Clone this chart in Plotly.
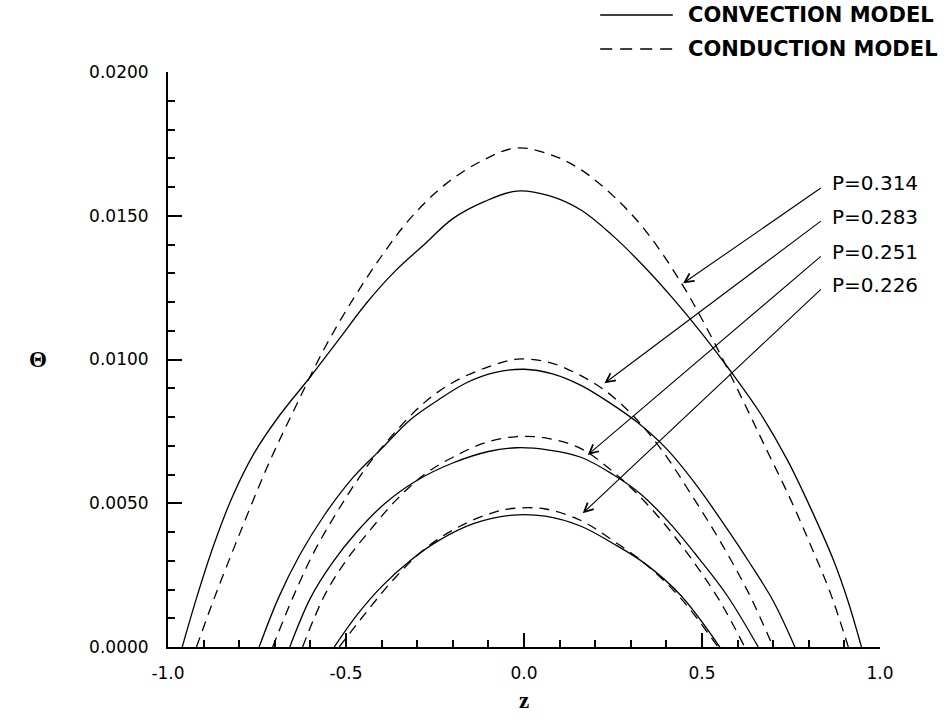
import plotly.graph_objects as go

# ---- data ----
# P = 0.314
z_conv_314 = [-0.96, -0.92, -0.87, -0.82, -0.76, -0.69, -0.60, -0.52, -0.44, -0.36, -0.28, -0.20, -0.11, -0.02,
              0.07, 0.16, 0.25, 0.34, 0.42, 0.50, 0.58, 0.66, 0.74, 0.81, 0.87, 0.91, 0.948]
t_conv_314 = [0, 0.0017, 0.0036, 0.0052, 0.0067, 0.0080, 0.0094, 0.0107, 0.0120, 0.0131, 0.0140, 0.0149, 0.0155, 0.01586,
              0.0157, 0.0152, 0.0143, 0.0132, 0.0121, 0.0109, 0.0096, 0.0082, 0.0065, 0.0047, 0.0030, 0.0016, 0]
z_cond_314 = [-0.92, -0.87, -0.80, -0.72, -0.64, -0.56, -0.48, -0.40, -0.32, -0.22, -0.12, -0.02,
              0.08, 0.16, 0.25, 0.34, 0.44, 0.53, 0.61, 0.68, 0.75, 0.81, 0.86, 0.911]
t_cond_314 = [0, 0.0017, 0.0039, 0.0063, 0.0084, 0.0104, 0.0121, 0.0136, 0.0149, 0.0161, 0.0169, 0.01736,
              0.0171, 0.0166, 0.0157, 0.0145, 0.0127, 0.0107, 0.0087, 0.0069, 0.0051, 0.0034, 0.0019, 0]

# P = 0.283
z_conv_283 = [-0.744, -0.69, -0.63, -0.56, -0.48, -0.40, -0.32, -0.24, -0.16, -0.08, 0.0,
              0.08, 0.16, 0.24, 0.32, 0.40, 0.48, 0.56, 0.63, 0.70, 0.761]
t_conv_283 = [0, 0.0017, 0.0032, 0.0046, 0.0059, 0.0069, 0.0079, 0.0086, 0.0092, 0.00955, 0.00966,
              0.0095, 0.0091, 0.0085, 0.0078, 0.0069, 0.0057, 0.0043, 0.0030, 0.0016, 0]
z_cond_283 = [-0.706, -0.65, -0.59, -0.52, -0.44, -0.36, -0.28, -0.20, -0.11, -0.02,
              0.07, 0.15, 0.23, 0.31, 0.39, 0.47, 0.55, 0.63, 0.70]
t_cond_283 = [0, 0.0017, 0.0033, 0.0048, 0.0063, 0.0075, 0.0085, 0.0092, 0.0097, 0.01001,
              0.0099, 0.0095, 0.0089, 0.0080, 0.0068, 0.0053, 0.0037, 0.0019, 0]

# P = 0.251
z_conv_251 = [-0.658, -0.60, -0.54, -0.47, -0.39, -0.30, -0.20, -0.10, -0.02,
              0.07, 0.16, 0.25, 0.33, 0.41, 0.49, 0.57, 0.658]
t_conv_251 = [0, 0.0017, 0.0029, 0.0040, 0.0050, 0.0058, 0.0064, 0.0068, 0.00693,
              0.00685, 0.0066, 0.0060, 0.0053, 0.0043, 0.0031, 0.0018, 0]
z_cond_251 = [-0.622, -0.56, -0.50, -0.43, -0.36, -0.28, -0.20, -0.11, -0.02,
              0.07, 0.16, 0.24, 0.32, 0.40, 0.48, 0.55, 0.62]
t_cond_251 = [0, 0.0018, 0.0030, 0.0041, 0.0051, 0.0060, 0.0066, 0.0071, 0.00732,
              0.00725, 0.0069, 0.0062, 0.0053, 0.0042, 0.0029, 0.0016, 0]

# P = 0.226
z_conv_226 = [-0.533, -0.47, -0.40, -0.32, -0.24, -0.14, -0.03, 0.06, 0.16, 0.25, 0.34, 0.44, 0.55]
t_conv_226 = [0, 0.0011, 0.0021, 0.0030, 0.0037, 0.0043, 0.00459, 0.00455, 0.0042, 0.0036, 0.0029, 0.0018, 0]
z_cond_226 = [-0.519, -0.45, -0.37, -0.28, -0.18, -0.08, -0.02, 0.06, 0.16, 0.25, 0.34, 0.44, 0.545]
t_cond_226 = [0, 0.0011, 0.0023, 0.0034, 0.0042, 0.0047, 0.00483, 0.0048, 0.0044, 0.0037, 0.0029, 0.0017, 0]

p_labels = ["P=0.314", "P=0.283", "P=0.251", "P=0.226"]
series_names = ["CONVECTION MODEL", "CONDUCTION MODEL"]
x_tick_vals = [-1.0, -0.5, 0.0, 0.5, 1.0]
x_tick_text = ["-1.0", "-0.5", "0.0", "0.5", "1.0"]
y_tick_vals = [0.0, 0.005, 0.010, 0.015, 0.020]
y_tick_text = ["0.0000", "0.0050", "0.0100", "0.0150", "0.0200"]

# ---- figure ----
fig = go.Figure()
conv = [(z_conv_314, t_conv_314), (z_conv_283, t_conv_283), (z_conv_251, t_conv_251), (z_conv_226, t_conv_226)]
cond = [(z_cond_314, t_cond_314), (z_cond_283, t_cond_283), (z_cond_251, t_cond_251), (z_cond_226, t_cond_226)]

SOLID = dict(color="black", width=1.3, shape="spline", smoothing=1.0)
DASHED = dict(color="black", width=1.3, dash="10px,7px", shape="spline", smoothing=1.0)

for zz, tt in conv:
    fig.add_trace(go.Scatter(x=zz, y=tt, mode="lines", name=series_names[0], showlegend=False, line=SOLID))
for zz, tt in cond:
    fig.add_trace(go.Scatter(x=zz, y=tt, mode="lines", name=series_names[1], showlegend=False, line=DASHED))

# key (top right): line samples + bold labels
key_rows_y = [1.0991, 1.040]
key_dash = [None, "12px,8px"]
for name, ky, dsh in zip(series_names, key_rows_y, key_dash):
    ln = dict(color="black", width=1.3)
    if dsh:
        ln["dash"] = dsh
    fig.add_shape(type="line", xref="paper", yref="paper", x0=0.607, x1=0.709, y0=ky, y1=ky, line=ln)
    fig.add_annotation(xref="paper", yref="paper", x=0.727, y=ky, text=name, showarrow=False,
                       xanchor="left", yanchor="middle",
                       font=dict(family="DejaVu Sans", size=21, color="black", weight="bold"))

# arrows (tip on curve, tail at label) and labels
tips = [(0.447, 0.01265), (0.226, 0.00917), (0.179, 0.00668), (0.165, 0.00465)]
tails_y = [0.01600, 0.01485, 0.01363, 0.01249]
label_y = [0.01614, 0.01496, 0.01374, 0.01259]
for lab, (tx, ty), ay, ly in zip(p_labels, tips, tails_y, label_y):
    fig.add_annotation(x=tx, y=ty, ax=0.838, ay=ay, axref="x", ayref="y", xref="x", yref="y",
                       text="", showarrow=True, arrowhead=5, arrowsize=1.6, arrowwidth=1.1,
                       arrowcolor="black", standoff=0, startstandoff=0)
    fig.add_annotation(x=0.86, y=ly, xref="x", yref="y", text=lab, showarrow=False,
                       xanchor="left", yanchor="middle",
                       font=dict(family="DejaVu Sans", size=20, color="black"))

# axis titles
fig.add_annotation(xref="paper", yref="paper", x=0.5, y=0, yshift=-53, text="z", showarrow=False,
                   xanchor="center", yanchor="middle",
                   font=dict(family="Liberation Serif", size=23, color="black", weight="bold"))
fig.add_annotation(xref="paper", yref="paper", x=0, y=0.5, xshift=-130, text="Θ", showarrow=False,
                   xanchor="center", yanchor="middle",
                   font=dict(family="Liberation Serif", size=23, color="black", weight="bold"))

fig.update_layout(
    width=952, height=723,
    margin=dict(l=168, r=72, t=72, b=76),
    paper_bgcolor="white", plot_bgcolor="white",
    font=dict(family="DejaVu Sans", color="black"),
    showlegend=False,
    xaxis=dict(range=[-1, 1], showgrid=False, zeroline=False, showline=True, linewidth=2,
               linecolor="black", ticks="inside", ticklen=14, tickwidth=2, tickcolor="black",
               tickvals=x_tick_vals, ticktext=x_tick_text, tickfont=dict(size=17),
               ticklabelstandoff=10,
               minor=dict(dtick=0.1, tick0=-1, ticks="inside", ticklen=7, tickwidth=2,
                          tickcolor="black", showgrid=False)),
    yaxis=dict(range=[0, 0.02], showgrid=False, zeroline=False, showline=True, linewidth=2,
               linecolor="black", ticks="inside", ticklen=14, tickwidth=2, tickcolor="black",
               tickvals=y_tick_vals, ticktext=y_tick_text, tickfont=dict(size=17),
               ticklabelstandoff=14,
               minor=dict(dtick=0.001, tick0=0, ticks="inside", ticklen=7, tickwidth=2,
                          tickcolor="black", showgrid=False)),
)

fig.write_html("out.html")
